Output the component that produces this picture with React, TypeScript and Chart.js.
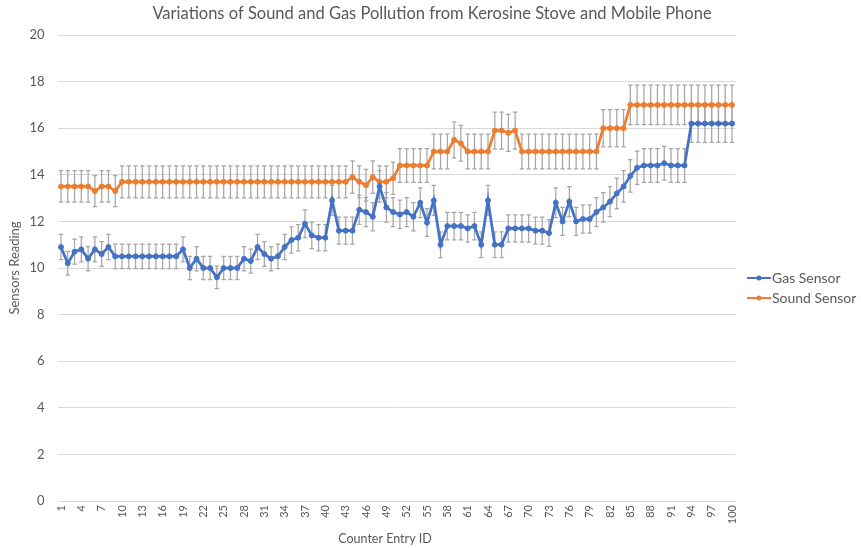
import React, { useEffect, useRef } from "react";
import { Chart, registerables } from "chart.js";

Chart.register(...registerables);

const chartTitle = "Variations of Sound and Gas Pollution from Kerosine Stove and Mobile Phone";
const xAxisTitle = "Counter Entry ID";
const yAxisTitle = "Sensors Reading";

const entryIds = [
  "1", "2", "3", "4", "5", "6", "7", "8", "9", "10",
  "11", "12", "13", "14", "15", "16", "17", "18", "19", "20",
  "21", "22", "23", "24", "25", "26", "27", "28", "29", "30",
  "31", "32", "33", "34", "35", "36", "37", "38", "39", "40",
  "41", "42", "43", "44", "45", "46", "47", "48", "49", "50",
  "51", "52", "53", "54", "55", "56", "57", "58", "59", "60",
  "61", "62", "63", "64", "65", "66", "67", "68", "69", "70",
  "71", "72", "73", "74", "75", "76", "77", "78", "79", "80",
  "81", "82", "83", "84", "85", "86", "87", "88", "89", "90",
  "91", "92", "93", "94", "95", "96", "97", "98", "99", "100",
];

const gasSensor = [
  10.9, 10.2, 10.7, 10.8, 10.4, 10.8, 10.6, 10.9, 10.5, 10.5,
  10.5, 10.5, 10.5, 10.5, 10.5, 10.5, 10.5, 10.5, 10.8, 10.0,
  10.4, 10.0, 10.0, 9.6, 10.0, 10.0, 10.0, 10.4, 10.3, 10.9,
  10.6, 10.4, 10.5, 10.9, 11.2, 11.3, 11.9, 11.4, 11.3, 11.3,
  12.9, 11.6, 11.6, 11.6, 12.5, 12.4, 12.2, 13.5, 12.6, 12.4,
  12.3, 12.4, 12.2, 12.8, 11.95, 12.9, 11.0, 11.8, 11.8, 11.8,
  11.7, 11.8, 11.0, 12.9, 11.0, 11.0, 11.7, 11.7, 11.7, 11.7,
  11.6, 11.6, 11.5, 12.8, 12.0, 12.85, 12.0, 12.1, 12.1, 12.4,
  12.6, 12.85, 13.2, 13.5, 13.95, 14.3, 14.4, 14.4, 14.4, 14.5,
  14.4, 14.4, 14.4, 16.2, 16.2, 16.2, 16.2, 16.2, 16.2, 16.2,
];

const soundSensor = [
  13.5, 13.5, 13.5, 13.5, 13.5, 13.3, 13.5, 13.5, 13.3, 13.7,
  13.7, 13.7, 13.7, 13.7, 13.7, 13.7, 13.7, 13.7, 13.7, 13.7,
  13.7, 13.7, 13.7, 13.7, 13.7, 13.7, 13.7, 13.7, 13.7, 13.7,
  13.7, 13.7, 13.7, 13.7, 13.7, 13.7, 13.7, 13.7, 13.7, 13.7,
  13.7, 13.7, 13.7, 13.9, 13.7, 13.55, 13.9, 13.7, 13.7, 13.85,
  14.4, 14.4, 14.4, 14.4, 14.4, 15.0, 15.0, 15.0, 15.5, 15.35,
  15.0, 15.0, 15.0, 15.0, 15.9, 15.9, 15.8, 15.9, 15.0, 15.0,
  15.0, 15.0, 15.0, 15.0, 15.0, 15.0, 15.0, 15.0, 15.0, 15.0,
  16.0, 16.0, 16.0, 16.0, 17.0, 17.0, 17.0, 17.0, 17.0, 17.0,
  17.0, 17.0, 17.0, 17.0, 17.0, 17.0, 17.0, 17.0, 17.0, 17.0,
];

// error bars: percentage of value
const errorPercent = 0.05;

const FONT = "Lato";
const TEXT_COLOR = "#595959";

const errorBarPlugin = {
  id: "errorBars",
  beforeDatasetsDraw(chart: any) {
    const ctx = chart.ctx;
    const xs = chart.scales.x;
    const ys = chart.scales.y;
    ctx.save();
    ctx.strokeStyle = "#a6a6a6";
    ctx.lineWidth = 1.25;
    chart.data.datasets.forEach((ds: any) => {
      ds.data.forEach((v: number, i: number) => {
        const x = xs.getPixelForValue(i);
        const yt = ys.getPixelForValue(v * (1 + errorPercent));
        const yb = ys.getPixelForValue(v * (1 - errorPercent));
        ctx.beginPath();
        ctx.moveTo(x, yt);
        ctx.lineTo(x, yb);
        ctx.moveTo(x - 2.2, yt);
        ctx.lineTo(x + 2.2, yt);
        ctx.moveTo(x - 2.2, yb);
        ctx.lineTo(x + 2.2, yb);
        ctx.stroke();
      });
    });
    ctx.restore();
  },
};

const titleAndLegendPlugin = {
  id: "titleAndLegend",
  afterDraw(chart: any) {
    const ctx = chart.ctx;
    ctx.save();
    ctx.fillStyle = TEXT_COLOR;
    ctx.font = `16.5px ${FONT}`;
    ctx.textAlign = "center";
    ctx.textBaseline = "middle";
    ctx.fillText(chartTitle, 432, 14);

    ctx.font = `12.5px ${FONT}`;
    ctx.fillText(xAxisTitle, 385, 539);

    const legendY = [278, 298];
    chart.data.datasets.forEach((ds: any, i: number) => {
      const y = legendY[i];
      ctx.strokeStyle = ds.borderColor;
      ctx.lineWidth = 2;
      ctx.beginPath();
      ctx.moveTo(747, y);
      ctx.lineTo(771, y);
      ctx.stroke();
      ctx.fillStyle = ds.borderColor;
      ctx.beginPath();
      ctx.arc(759, y, 2.5, 0, Math.PI * 2);
      ctx.fill();
      ctx.fillStyle = TEXT_COLOR;
      ctx.font = `14px ${FONT}`;
      ctx.textAlign = "left";
      ctx.textBaseline = "middle";
      ctx.fillText(ds.label, 772, y);
    });
    ctx.restore();
  },
};

export default function App() {
  const canvasRef = useRef<HTMLCanvasElement | null>(null);

  useEffect(() => {
    const canvas = canvasRef.current;
    if (!canvas) return;
    const chart = new Chart(canvas, {
      type: "line",
      data: {
        labels: entryIds,
        datasets: [
          {
            label: "Gas Sensor",
            data: gasSensor,
            borderColor: "#4472C4",
            backgroundColor: "#4472C4",
            borderWidth: 2.75,
            pointRadius: 2.5,
            pointBorderWidth: 1,
            tension: 0,
          },
          {
            label: "Sound Sensor",
            data: soundSensor,
            borderColor: "#ED7D31",
            backgroundColor: "#ED7D31",
            borderWidth: 2.75,
            pointRadius: 2.5,
            pointBorderWidth: 1,
            tension: 0,
          },
        ],
      },
      options: {
        responsive: false,
        animation: false,
        devicePixelRatio: 1,
        layout: { padding: { top: 35, right: 125.6, bottom: 0, left: 0 } },
        plugins: {
          legend: { display: false },
          title: { display: false },
          tooltip: { enabled: false },
        },
        scales: {
          x: {
            type: "category",
            offset: true,
            grid: { display: false, drawTicks: false },
            border: { display: false },
            ticks: {
              autoSkip: false,
              maxRotation: 90,
              minRotation: 90,
              padding: 4,
              color: TEXT_COLOR,
              font: { family: FONT, size: 11 },
              callback: (_v: any, i: number) => (i % 3 === 0 ? entryIds[i] : ""),
            },
            title: { display: false },
            afterFit: (scale: any) => {
              scale.height = 47;
            },
          },
          y: {
            min: 0,
            max: 20,
            grid: { color: "#d9d9d9", drawTicks: false, lineWidth: 1 },
            border: { display: false },
            ticks: {
              stepSize: 2,
              padding: 13,
              color: TEXT_COLOR,
              font: { family: FONT, size: 13 },
            },
            title: {
              display: true,
              text: yAxisTitle,
              color: TEXT_COLOR,
              font: { family: FONT, size: 13 },
              padding: { top: 7.5, bottom: 0 },
            },
            afterFit: (scale: any) => {
              scale.width = 57.6;
            },
          },
        },
      },
      plugins: [errorBarPlugin, titleAndLegendPlugin],
    });
    return () => chart.destroy();
  }, []);

  return (
    <div style={{ position: "fixed", left: 0, top: 0, width: 861, height: 548, background: "#fff" }}>
      <canvas ref={canvasRef} width={861} height={548} />
    </div>
  );
}
